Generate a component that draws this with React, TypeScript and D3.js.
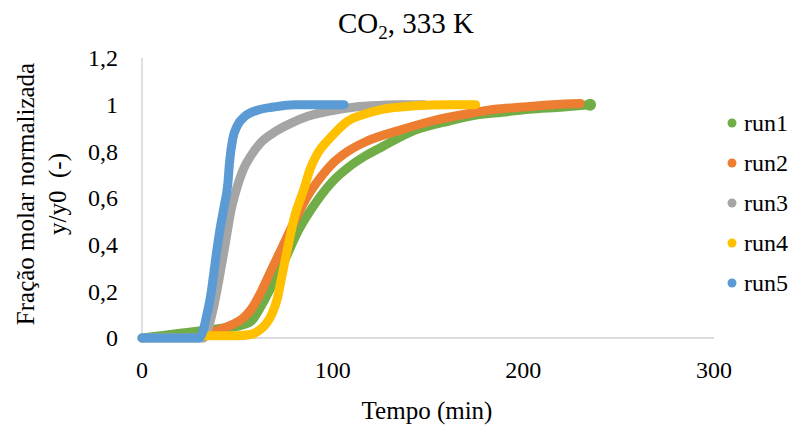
import { useRef, useEffect } from 'react';
import * as d3 from 'd3';

// time (min) and y/y0
const run1T = [0, 10, 20, 30, 40, 50, 57, 62, 66, 73, 82, 92, 101, 108, 117, 126, 143, 161, 179, 186, 203, 221, 235];
const run1Y = [0, 0.01, 0.02, 0.03, 0.04, 0.05, 0.07, 0.13, 0.19, 0.3, 0.46, 0.59, 0.68, 0.73, 0.78, 0.82, 0.89, 0.93, 0.96, 0.965, 0.98, 0.99, 1.0];

const run2T = [35, 42, 48, 53, 57, 62, 66, 73, 80, 87, 92, 99, 108, 117, 135, 152, 170, 185, 200, 215, 230];
const run2Y = [0.02, 0.04, 0.06, 0.085, 0.12, 0.19, 0.26, 0.38, 0.5, 0.61, 0.67, 0.74, 0.8, 0.84, 0.89, 0.93, 0.96, 0.98, 0.99, 1.0, 1.005];

const run3T = [0, 20, 32, 35, 38, 41, 44, 46.5, 50, 53, 57, 62, 69, 78, 87, 100, 110, 120, 135, 148];
const run3Y = [0, 0, 0, 0.05, 0.15, 0.28, 0.42, 0.54, 0.65, 0.72, 0.78, 0.835, 0.88, 0.92, 0.95, 0.975, 0.988, 0.995, 1.0, 1.0];

const run4T = [33, 40, 50, 57, 61, 65, 68, 71, 73, 76.5, 80, 85, 88, 92, 99, 108, 117, 126, 143, 160, 175];
const run4Y = [0.01, 0.01, 0.01, 0.015, 0.03, 0.06, 0.1, 0.17, 0.25, 0.39, 0.52, 0.64, 0.72, 0.79, 0.86, 0.93, 0.96, 0.98, 0.995, 1.0, 1.0];

const run5T = [0, 10, 20, 30, 32, 34, 36, 38, 39.5, 41, 43, 45, 46, 47.5, 50, 54, 60, 69, 80, 96, 106];
const run5Y = [0, 0, 0, 0, 0.03, 0.1, 0.18, 0.3, 0.39, 0.47, 0.56, 0.66, 0.76, 0.85, 0.91, 0.95, 0.975, 0.99, 1.0, 1.0, 1.0];

const seriesNames = ['run1', 'run2', 'run3', 'run4', 'run5'];
const seriesColors = ['#70AD47', '#ED7D31', '#A5A5A5', '#FFC000', '#5B9BD5'];
const xTicks = [0, 100, 200, 300];
const yTicks = [0, 0.2, 0.4, 0.6, 0.8, 1, 1.2];

const FONT = "'Liberation Serif', 'Times New Roman', serif";

export default function App() {
  const svgRef = useRef<SVGSVGElement>(null);

  useEffect(() => {
    const times = [run1T, run2T, run3T, run4T, run5T];
    const values = [run1Y, run2Y, run3Y, run4Y, run5Y];
    const data = seriesNames.map((name, i) => ({
      name,
      color: seriesColors[i],
      points: times[i].map((t, j) => ({ t, v: values[i][j] })),
    }));

    const width = 796;
    const height = 428;
    const plot = { left: 142, right: 714, top: 58, bottom: 338 };

    const svg = d3.select(svgRef.current)
      .html('')
      .attr('width', width)
      .attr('height', height);

    svg.append('rect').attr('width', width).attr('height', height).attr('fill', '#fff');

    const x = d3.scaleLinear().domain([0, 300]).range([plot.left, plot.right]);
    const y = d3.scaleLinear().domain([0, 1.2]).range([plot.bottom, plot.top]);

    // axes lines
    svg.append('line')
      .attr('x1', x(0)).attr('x2', x(0))
      .attr('y1', y(1.2)).attr('y2', y(0))
      .attr('stroke', '#d0d0d0').attr('stroke-width', 1.3);
    svg.append('line')
      .attr('x1', x(0)).attr('x2', x(300))
      .attr('y1', y(0)).attr('y2', y(0))
      .attr('stroke', '#d0d0d0').attr('stroke-width', 1.3);

    // tick labels
    svg.append('g')
      .selectAll('text')
      .data(yTicks)
      .join('text')
      .attr('x', plot.left - 24)
      .attr('y', d => y(d))
      .attr('dy', '0.35em')
      .attr('text-anchor', 'end')
      .attr('font-family', FONT)
      .attr('font-size', 24)
      .attr('fill', '#000')
      .text(d => d3.format('~g')(d).replace('.', ','));

    svg.append('g')
      .selectAll('text')
      .data(xTicks)
      .join('text')
      .attr('x', d => x(d))
      .attr('y', 370)
      .attr('dy', '0.35em')
      .attr('text-anchor', 'middle')
      .attr('font-family', FONT)
      .attr('font-size', 24)
      .attr('fill', '#000')
      .text(d => d);

    // series
    const line = d3.line<{ t: number; v: number }>()
      .x(d => x(d.t))
      .y(d => y(d.v))
      .curve(d3.curveMonotoneX);

    svg.append('g')
      .selectAll('path')
      .data(data)
      .join('path')
      .attr('d', d => line(d.points))
      .attr('fill', 'none')
      .attr('stroke', d => d.color)
      .attr('stroke-width', 9)
      .attr('stroke-linecap', 'round')
      .attr('stroke-linejoin', 'round');

    // last marker of run1 sticks out a bit
    const last = data[0].points[data[0].points.length - 1];
    svg.append('circle')
      .attr('cx', x(last.t))
      .attr('cy', y(last.v))
      .attr('r', 6)
      .attr('fill', data[0].color);

    // title
    const title = svg.append('text')
      .attr('x', 406)
      .attr('y', 33)
      .attr('text-anchor', 'middle')
      .attr('font-family', FONT)
      .attr('font-size', 29)
      .attr('fill', '#000');
    title.append('tspan').text('CO');
    title.append('tspan').attr('font-size', 19).attr('dy', 6).text('2');
    title.append('tspan').attr('dy', -6).text(', 333 K');

    // axis titles
    svg.append('text')
      .attr('x', 427)
      .attr('y', 410)
      .attr('dy', '0.35em')
      .attr('text-anchor', 'middle')
      .attr('font-family', FONT)
      .attr('font-size', 25)
      .attr('fill', '#000')
      .text('Tempo (min)');

    const yTitle = svg.append('text')
      .attr('transform', 'translate(25,194) rotate(-90)')
      .attr('text-anchor', 'middle')
      .attr('font-family', FONT)
      .attr('font-size', 25)
      .attr('fill', '#000');
    yTitle.append('tspan').attr('x', 0).attr('dy', '0.35em').text('Fração molar normalizada');
    yTitle.append('tspan').attr('x', 0).attr('dy', 32).attr('xml:space', 'preserve').text('y/y0  (-)');

    // legend
    const legend = svg.append('g')
      .selectAll('g')
      .data(data)
      .join('g')
      .attr('transform', (d, i) => `translate(732,${123 + i * 40})`);
    legend.append('circle').attr('r', 4.5).attr('fill', d => d.color);
    legend.append('text')
      .attr('x', 12)
      .attr('dy', '0.35em')
      .attr('font-family', FONT)
      .attr('font-size', 24)
      .attr('fill', '#000')
      .text(d => d.name);
  }, []);

  return (
    <svg ref={svgRef} style={{ position: 'absolute', left: 0, top: 0, display: 'block' }} />
  );
}
